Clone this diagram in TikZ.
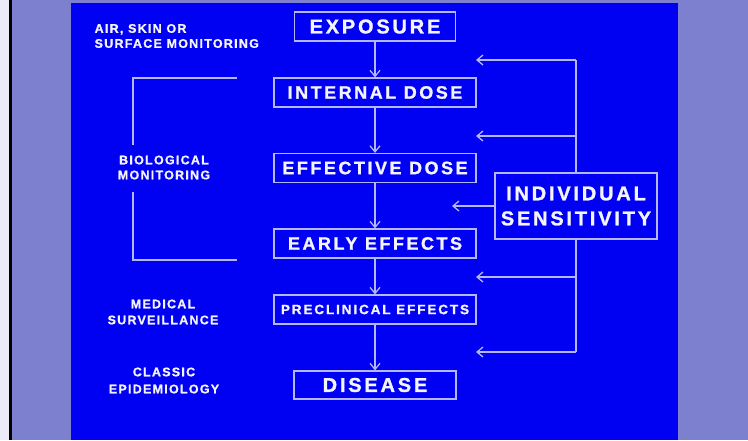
\documentclass[tikz,border=0pt]{standalone}
\usepackage{fontspec}
\setmainfont{Liberation Sans}
\newfontfamily\slidefont[LetterSpace=14,BoldFeatures={FakeBold=1.2}]{Liberation Sans}
\newfontfamily\notefont[LetterSpace=10,BoldFeatures={FakeBold=1}]{Liberation Sans}
\usetikzlibrary{arrows.meta}
\definecolor{wall}{HTML}{7C80CE}
\definecolor{slide}{HTML}{0000F2}
\definecolor{chalk}{HTML}{B4B6FF}
\definecolor{ink}{HTML}{F4F4FF}

\begin{document}
\begin{tikzpicture}[x=1pt,y=-1pt,line width=1.3pt,
  box/.style={draw=chalk,inner sep=0pt,minimum width=202pt,minimum height=29pt,text=ink,
    font=\fontsize{18}{18}\slidefont\bfseries\selectfont},
  note/.style={text=ink,inner sep=0pt,align=center,font=\fontsize{12.5}{15}\notefont\bfseries\selectfont},
  arr/.style={draw=chalk,-{Straight Barb[length=6pt,width=10pt]}},
  wire/.style={draw=chalk}]
  % slide and wall
  \useasboundingbox (0,0) rectangle (748,440);
  \fill[wall] (0,0) rectangle (748,440);
  \fill[white!85!wall] (0,0) rectangle (9,440);
  \fill[black] (9,0) rectangle (12,440);
  \fill[slide] (71,3) rectangle (678,440);
  % main chain
  \node[box,minimum width=161pt,font=\fontsize{20}{20}\slidefont\bfseries\selectfont] (expo) at (375,26.5) {EXPOSURE};
  \node[box] (idose) at (375,92.5) {INTERNAL DOSE};
  \node[box] (edose) at (375,168) {EFFECTIVE DOSE};
  \node[box] (early) at (375,243.5) {EARLY EFFECTS};
  \node[box,font=\fontsize{13.5}{13.5}\slidefont\bfseries\selectfont] (precl) at (375,309.5) {PRECLINICAL EFFECTS};
  \node[box,minimum width=162pt,minimum height=28pt,font=\fontsize{20}{20}\slidefont\bfseries\selectfont] (dis) at (375,385) {DISEASE};
  \draw[arr] (expo) -- (idose);
  \draw[arr] (idose) -- (edose);
  \draw[arr] (edose) -- (early);
  \draw[arr] (early) -- (precl);
  \draw[arr] (precl) -- (dis);
  % individual sensitivity feedback
  \node[box,minimum width=162pt,minimum height=66pt,align=center,
    font=\fontsize{20}{25}\slidefont\bfseries\selectfont] (indiv) at (576,206) {INDIVIDUAL\\SENSITIVITY};
  \coordinate (fbtop) at (576,60);
  \coordinate (fbbot) at (576,352);
  \coordinate (fb2) at (576,136);
  \coordinate (fb4) at (576,277);
  \coordinate (t1) at (476,60);
  \coordinate (t2) at (476,136);
  \coordinate (t3) at (452,206);
  \coordinate (t4) at (476,277);
  \coordinate (t5) at (476,352);
  \draw[wire] (indiv.north) -- (fbtop);
  \draw[wire] (indiv.south) -- (fbbot);
  \draw[arr] (fbtop) -- (t1);
  \draw[arr] (fb2) -- (t2);
  \draw[arr] (indiv.west) -- (t3);
  \draw[arr] (fb4) -- (t4);
  \draw[arr] (fbbot) -- (t5);
  % monitoring labels
  \node[note,anchor=west,align=left] (air) at (94,36) {AIR, SKIN OR\\SURFACE MONITORING};
  \node[note] (bio) at (164,167.5) {BIOLOGICAL\\MONITORING};
  \node[note,font=\fontsize{12.5}{16}\notefont\bfseries\selectfont] (med) at (163,312) {MEDICAL\\SURVEILLANCE};
  \node[note,font=\fontsize{12.5}{17}\notefont\bfseries\selectfont] (epi) at (164,380.5) {CLASSIC\\EPIDEMIOLOGY};
  % bracket
  \draw[wire,line width=1.1pt] (237,78) -- (133,78) -- (133,145) (133,192) -- (133,260) -- (237,260);
\end{tikzpicture}
\end{document}
